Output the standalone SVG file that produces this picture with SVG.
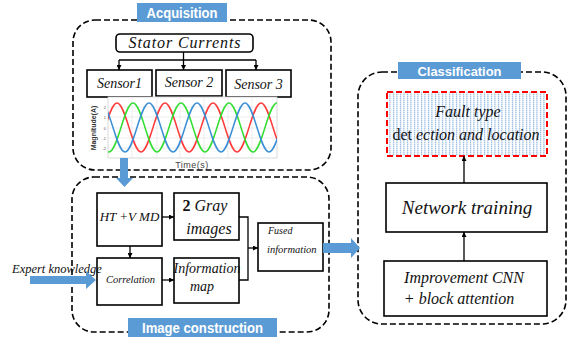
<svg xmlns="http://www.w3.org/2000/svg" width="568" height="340" viewBox="0 0 568 340">
<style>
.grp{fill:none;stroke:#000;stroke-width:1.6;stroke-dasharray:6 3}
.box{fill:#fff;stroke:#000;stroke-width:1.6}
.lbl{fill:#5b9bd5}
.lt{font-family:"Liberation Sans",Arial,sans-serif;font-weight:bold;fill:#fff}
.it{font-family:'Liberation Serif','Times New Roman',serif;font-style:italic;fill:#111}
.ln{fill:none;stroke:#000;stroke-width:1.3}
.big{fill:#5b9bd5}
.grid{stroke:#e3e3e3;stroke-width:0.6}
.tk{font-family:"Liberation Sans",Arial,sans-serif;font-size:4px;fill:#555}
</style>
<defs>
<marker id="ah" viewBox="0 0 10 10" refX="10" refY="5" markerWidth="5" markerHeight="5" orient="auto" markerUnits="userSpaceOnUse">
<path d="M0,0 L10,5 L0,10 z" fill="#000"/>
</marker>
<pattern id="dots" width="3.5" height="2" patternUnits="userSpaceOnUse">
<rect width="3.5" height="2" fill="#fff"/>
<rect x="1" y="0" width="1" height="1" fill="#7ea9de"/>
<rect x="1" y="1" width="1" height="1" fill="#c4d8f2"/>
</pattern>
<clipPath id="pc"><rect x="108" y="97" width="169" height="61"/></clipPath>
</defs>

<g id="acquisition">
<rect class="grp" x="73" y="20" width="258" height="150" rx="22"/>
<rect class="lbl" x="137" y="3" width="90" height="19"/>
<text class="lt" x="182" y="18" font-size="14" text-anchor="middle" textLength="71" lengthAdjust="spacingAndGlyphs">Acquisition</text>
</g>

<g id="stator">
<rect class="box" x="116" y="34" width="137" height="18" rx="4"/>
<text class="it" x="184.5" y="48" font-size="16" text-anchor="middle" textLength="112" lengthAdjust="spacing">Stator Currents</text>
</g>
<g id="sensor1">
<rect class="box" x="87" y="70" width="65" height="27"/>
<text class="it" x="119.5" y="88" font-size="14" text-anchor="middle">Sensor1</text>
</g>
<g id="sensor2">
<rect class="box" x="156" y="70" width="66" height="26"/>
<text class="it" x="189" y="87" font-size="14" text-anchor="middle">Sensor 2</text>
</g>
<g id="sensor3">
<rect class="box" x="226" y="70" width="65" height="27"/>
<text class="it" x="258.5" y="89" font-size="14" text-anchor="middle">Sensor 3</text>
</g>

<g id="plot">
<rect x="108" y="97" width="169" height="61" fill="#fff" stroke="#cfcfcf" stroke-width="0.8"/>
<g class="grid">
<line x1="132" y1="97" x2="132" y2="158"/><line x1="157" y1="97" x2="157" y2="158"/>
<line x1="180" y1="97" x2="180" y2="158"/><line x1="204" y1="97" x2="204" y2="158"/>
<line x1="228" y1="97" x2="228" y2="158"/><line x1="252" y1="97" x2="252" y2="158"/>
<line x1="108" y1="107" x2="277" y2="107"/><line x1="108" y1="117" x2="277" y2="117"/>
<line x1="108" y1="128" x2="277" y2="128"/><line x1="108" y1="138" x2="277" y2="138"/>
<line x1="108" y1="148" x2="277" y2="148"/>
</g>
<g clip-path="url(#pc)" fill="none" stroke-width="1.5">
<path stroke="#ff3b3b" d="M93,152 C101.7,152 108.3,103 117,103 S132.3,152 141,152 S156.3,103 165,103 S180.3,152 189,152 S204.3,103 213,103 S228.3,152 237,152 S252.3,103 261,103 S276.3,152 285,152"/>
<path stroke="#33dd33" d="M85,103 C93.7,103 100.3,152 109,152 S124.3,103 133,103 S148.3,152 157,152 S172.3,103 181,103 S196.3,152 205,152 S220.3,103 229,103 S244.3,152 253,152 S268.3,103 277,103 S292.3,152 301,152"/>
<path stroke="#3a8fd6" d="M101,103 C109.7,103 116.3,152 125,152 S140.3,103 149,103 S164.3,152 173,152 S188.3,103 197,103 S212.3,152 221,152 S236.3,103 245,103 S260.3,152 269,152 S284.3,103 293,103"/>
</g>
<text class="tk" x="106" y="109" text-anchor="end">2</text>
<text class="tk" x="106" y="119" text-anchor="end">1</text>
<text class="tk" x="106" y="130" text-anchor="end">0</text>
<text class="tk" x="106" y="140" text-anchor="end">-1</text>
<text class="tk" x="106" y="150" text-anchor="end">-2</text>
<text x="96" y="128" font-family="'Liberation Sans',Arial,sans-serif" font-size="7" font-weight="bold" fill="#333" text-anchor="middle" transform="rotate(-90 96 128)">Magnitude(A)</text>
<text x="192" y="168" font-family="'Liberation Sans',Arial,sans-serif" font-size="9" fill="#444" text-anchor="middle" letter-spacing="0.5">Time(s)</text>
</g>

<g id="image-construction">
<rect class="grp" x="72" y="177" width="257" height="155" rx="22"/>
<rect class="lbl" x="128" y="318" width="149" height="19"/>
<text class="lt" x="202.5" y="333" font-size="14" text-anchor="middle" textLength="121" lengthAdjust="spacingAndGlyphs">Image construction</text>
</g>
<g id="ht-vmd">
<rect class="box" x="97" y="193" width="65" height="53"/>
<text class="it" x="129.5" y="221" font-size="13" text-anchor="middle">HT +V MD</text>
</g>
<g id="gray-images">
<rect class="box" x="174" y="193" width="65" height="47"/>
<text class="it" x="205" y="211" font-size="16" text-anchor="middle"><tspan font-style="normal" font-weight="bold">2</tspan> Gray</text>
<text class="it" x="209" y="234" font-size="16" text-anchor="middle">images</text>
</g>
<g id="correlation">
<rect class="box" x="97" y="258" width="65" height="47"/>
<text class="it" x="130.5" y="283" font-size="10.5" text-anchor="middle">Correlation</text>
</g>
<g id="information-map">
<rect class="box" x="174" y="258" width="65" height="45"/>
<text class="it" x="207" y="273" font-size="14" text-anchor="middle">Information</text>
<text class="it" x="202" y="291" font-size="14" text-anchor="middle">map</text>
</g>
<g id="fused-information">
<rect class="box" x="258" y="223" width="65" height="48"/>
<text class="it" x="268" y="234" font-size="10">Fused</text>
<text class="it" x="267" y="253" font-size="10.5">information</text>
</g>
<g id="expert-knowledge">
<text class="it" x="12" y="273" font-size="12.5">Expert knowledge</text>
</g>

<g id="classification">
<rect class="grp" x="358" y="72" width="208" height="252" rx="24"/>
<rect class="lbl" x="398" y="62" width="123" height="17"/>
<text class="lt" x="459.5" y="76" font-size="13.5" text-anchor="middle" textLength="84" lengthAdjust="spacingAndGlyphs">Classification</text>
</g>
<g id="fault-type">
<rect x="387" y="92" width="160" height="64" fill="url(#dots)" stroke="#ff0000" stroke-width="2" stroke-dasharray="6 3"/>
<text class="it" x="468" y="117" font-size="16" text-anchor="middle">Fault type</text>
<text class="it" x="466" y="140" font-size="16" text-anchor="middle"><tspan font-style="normal">det</tspan> ection and location</text>
</g>
<g id="network-training">
<rect class="box" x="386" y="183" width="161" height="49"/>
<text class="it" x="467" y="214" font-size="19" text-anchor="middle">Network training</text>
</g>
<g id="improvement-cnn">
<rect class="box" x="384" y="261" width="163" height="55"/>
<text class="it" x="464" y="283" font-size="16" text-anchor="middle">Improvement CNN</text>
<text class="it" x="459" y="304" font-size="16" text-anchor="middle">+ block attention</text>
</g>

<g id="connectors">
<path class="ln" d="M183.5,52 V60"/>
<path class="ln" d="M119,60 H256"/>
<path class="ln" d="M119,60 V70" marker-end="url(#ah)"/>
<path class="ln" d="M183.5,60 V70" marker-end="url(#ah)"/>
<path class="ln" d="M256,60 V70" marker-end="url(#ah)"/>
<path class="ln" d="M162,217 H174" marker-end="url(#ah)"/>
<path class="ln" d="M130,246 V258" marker-end="url(#ah)"/>
<path class="ln" d="M162,280 H174" marker-end="url(#ah)"/>
<path class="ln" d="M239,217 H248 V280 H239"/>
<path class="ln" d="M248,248 H258" marker-end="url(#ah)"/>
<path class="ln" d="M464,183 V156" marker-end="url(#ah)"/>
<path class="ln" d="M464,261 V232" marker-end="url(#ah)"/>
<path class="big" d="M120,158 H128 V178 H133 L124.5,187 L116,178 H120 Z"/>
<path class="big" d="M30,276 H86 V271 L96,280 L86,289 V284 H30 Z"/>
<path class="big" d="M323,243 H351 V238 L360,248 L351,258 V253 H323 Z"/>
</g>
</svg>
